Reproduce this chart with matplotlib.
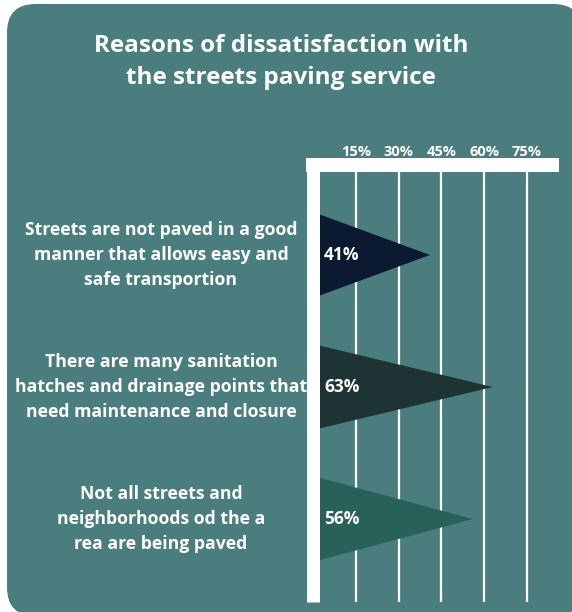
import matplotlib
matplotlib.use("Agg")
import matplotlib.pyplot as plt
from matplotlib.patches import FancyBboxPatch
from matplotlib.transforms import blended_transform_factory

reasons = [
    "Streets are not paved in a good\nmanner that allows easy and\nsafe transportion",
    "There are many sanitation\nhatches and drainage points that\nneed maintenance and closure",
    "Not all streets and\nneighborhoods od the a\nrea are being paved",
]
shares = [41, 63, 56]
tick_values = [15, 30, 45, 60, 75]
tri_colors = ["#0b1a30", "#1e3434", "#28605a"]

PANEL = "#4a7e7e"
W, H = 572, 612

plt.rcParams["font.family"] = ["Open Sans", "DejaVu Sans"]

fig = plt.figure(figsize=(W / 100, H / 100), dpi=100)
fig.patch.set_facecolor("white")

# rounded teal card behind everything
card = FancyBboxPatch((7 / W, 1 - 616 / H), 575 / W, 612 / H,
                      boxstyle="round,pad=0,rounding_size=0.05",
                      transform=fig.transFigure, facecolor=PANEL,
                      edgecolor="none", zorder=-5, mutation_aspect=W / H)
fig.patches.append(card)

fig.text(281 / W, 1 - 62 / H,
         "Reasons of dissatisfaction with\nthe streets paving service",
         ha="center", va="center", color="white", fontsize=17.5,
         fontweight="bold", linespacing=1.5)

# axes box: left spine centred on 0%, top spine along the top
left, right, top, bottom = 313, 552, 165, 602
ax = fig.add_axes([left / W, 1 - bottom / H, (right - left) / W, (bottom - top) / H])
ax.set_zorder(2)
ax.set_facecolor("none")
px_per_pct = 42.8 / 15
ax.set_xlim(0, (right - left) / px_per_pct)

step = 132.0
ax.set_ylim(2 + (bottom - 519) / step, -(255 - top) / step)
half = 43 / step

for x in tick_values:
    ax.axvline(x, color="white", linewidth=1.6, zorder=1)

for i, (v, c) in enumerate(zip(shares, tri_colors)):
    ax.fill([0, v, 0], [i - half, i, i + half], color=c, linewidth=0, zorder=2)
    ax.text(3.9, i, f"{v}%", ha="left", va="center", color="white",
            fontsize=12.5, fontweight="bold", zorder=3)

for s in ["right", "bottom"]:
    ax.spines[s].set_visible(False)
ax.spines["left"].set_color("white")
ax.spines["left"].set_linewidth(13 * 0.72)
ax.spines["left"].set_capstyle("butt")
ax.spines["top"].set_color("white")
ax.spines["top"].set_linewidth(14 * 0.72)
ax.spines["top"].set_capstyle("projecting")
for s in ax.spines.values():
    s.set_zorder(4)

ax.xaxis.tick_top()
ax.set_xticks(tick_values)
ax.set_xticklabels([f"{t}%" for t in tick_values])
ax.tick_params(axis="x", length=0, pad=4.5, colors="white", labelsize=10.5)
for lbl in ax.get_xticklabels():
    lbl.set_fontweight("bold")
ax.set_yticks([])

label_tf = blended_transform_factory(fig.transFigure, ax.transData)
for i, r in enumerate(reasons):
    ax.text(161 / W, i, r, transform=label_tf, clip_on=False,
            ha="center", va="center", color="white", fontsize=12.7,
            fontweight="bold", linespacing=1.52)

fig.savefig("out.png", dpi=100, facecolor=fig.get_facecolor())
